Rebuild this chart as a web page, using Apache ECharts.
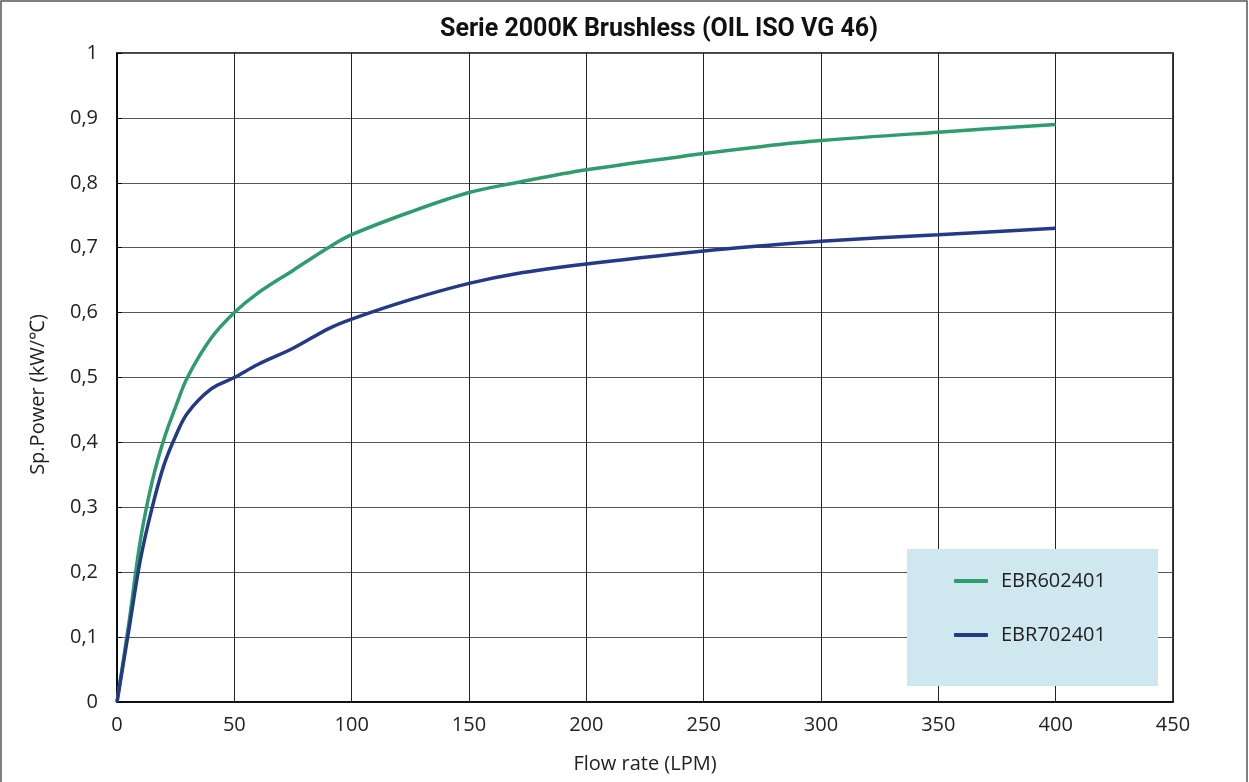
<!DOCTYPE html>
<html><head><meta charset="utf-8">
<script src="https://cdn.jsdelivr.net/npm/echarts@6/dist/echarts.min.js"></script>
<style>html,body{margin:0;padding:0;background:#fff}#c{width:1249px;height:782px}</style>
</head><body><div id="c"></div>
<script>
const flow = [0, 5, 10, 15, 20, 25, 30, 40, 50, 60, 75, 90, 100, 125, 150, 170, 200, 250, 275, 300, 350, 400];
const ebr602401 = [0, 0.12, 0.25, 0.34, 0.405, 0.455, 0.5, 0.56, 0.6, 0.63, 0.665, 0.7, 0.72, 0.755, 0.785, 0.8, 0.82, 0.845, 0.856, 0.865, 0.878, 0.89];
const ebr702401 = [0, 0.11, 0.22, 0.3, 0.365, 0.41, 0.445, 0.482, 0.5, 0.52, 0.545, 0.575, 0.59, 0.62, 0.645, 0.66, 0.675, 0.695, 0.703, 0.71, 0.72, 0.73];
const seriesNames = ['EBR602401', 'EBR702401'];

const chart = echarts.init(document.getElementById('c'), null, {renderer: 'canvas'});
const pair = (ys) => flow.map((x, i) => [x, ys[i]]);
const font = '"Open Sans", sans-serif';
chart.setOption({
  animation: false,
  backgroundColor: '#fff',
  graphic: [
    {type: 'rect', shape: {x: 1, y: 1, width: 1246, height: 800}, style: {fill: 'none', stroke: '#555', lineWidth: 1.5}, silent: true},
    {type: 'rect', shape: {x: 117, y: 53, width: 1056, height: 649}, style: {fill: 'none', stroke: '#000', lineWidth: 1.5}, silent: true, z: -1}
  ],
  title: {
    text: 'Serie 2000K Brushless (OIL ISO VG 46)',
    left: 654, top: 12, textAlign: 'center',
    textStyle: {fontFamily: 'Roboto, sans-serif', fontWeight: 'bold', fontSize: 25, color: '#111'}
  },
  grid: {left: 117, right: 76, top: 53, bottom: 80},
  legend: {
    orient: 'vertical', left: 907, top: 549,
    backgroundColor: '#cfe8ef',
    padding: [22, 52, 41, 47],
    itemWidth: 34, itemHeight: 4, itemGap: 34,
    icon: 'roundRect',
    textStyle: {fontFamily: font, fontSize: 20, color: '#222', padding: [0, 0, 0, 8]},
    data: seriesNames
  },
  xAxis: {
    type: 'value', min: 0, max: 450, interval: 50,
    name: 'Flow rate (LPM)', nameLocation: 'middle', nameGap: 52,
    nameTextStyle: {fontFamily: font, fontSize: 20, color: '#222'},
    axisLine: {show: true, lineStyle: {color: '#000', width: 1.5}},
    axisTick: {show: false},
    axisLabel: {fontFamily: font, fontSize: 20, color: '#222', margin: 13},
    splitLine: {show: true, lineStyle: {color: '#222', width: 1}}
  },
  yAxis: {
    type: 'value', min: 0, max: 1, interval: 0.1,
    name: 'Sp.Power (kW/\u2103)', nameLocation: 'middle', nameGap: 69,
    nameTextStyle: {fontFamily: font, fontSize: 20, color: '#222', padding: [0, 34, 0, 0]},
    axisLine: {show: true, lineStyle: {color: '#000', width: 1.5}},
    axisTick: {show: true, length: 5, inside: true, lineStyle: {color: '#000'}},
    axisLabel: {fontFamily: font, fontSize: 20, color: '#222', margin: 19,
      formatter: v => (Math.round(v * 10) / 10).toString().replace('.', ',')},
    splitLine: {show: true, lineStyle: {color: '#555', width: 1}}
  },
  series: [
    {name: seriesNames[0], type: 'line', data: pair(ebr602401), smooth: 0.35, showSymbol: false,
      lineStyle: {color: '#2e9c6c', width: 3.5}, itemStyle: {color: '#2e9c6c'}},
    {name: seriesNames[1], type: 'line', data: pair(ebr702401), smooth: 0.35, showSymbol: false,
      lineStyle: {color: '#243a86', width: 3.5}, itemStyle: {color: '#243a86'}}
  ]
});
</script></body></html>
